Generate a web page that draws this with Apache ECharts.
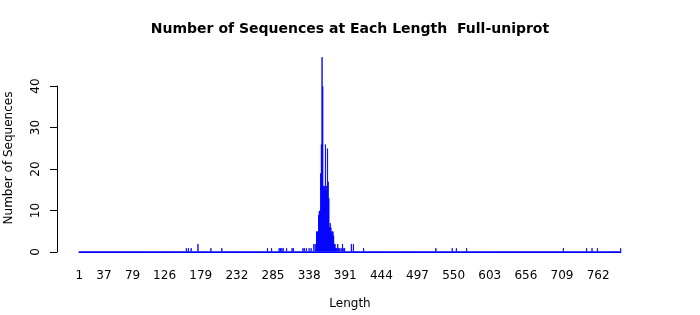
<!DOCTYPE html>
<html>
<head>
<meta charset="utf-8">
<script src="https://cdn.jsdelivr.net/npm/echarts@6/dist/echarts.min.js"></script>
<style>
html,body{margin:0;padding:0;background:#fff;}
#chart{width:700px;height:315px;}
</style>
</head>
<body>
<div id="chart"></div>
<script>
// Sequence lengths present (sparse) and their counts
const lengths = [158,161,165,175,194,210,277,283,294,296,298,300,305,313,315,329,331,334,338,341,345,347,349,350,351,352,353,354,355,356,357,358,359,360,361,362,363,364,365,366,367,368,369,370,371,372,373,374,375,376,377,378,380,381,383,385,387,389,390,400,403,418,524,548,554,569,711,745,753,761,795];
const counts  = [1,1,1,2,1,1,1,1,1,1,1,1,1,1,1,1,1,1,1,1,2,2,5,5,5,9,10,10,19,26,47,40,16,15,16,26,15,16,25,17,13,6,7,6,5,5,5,4,2,2,1,1,2,1,1,1,2,1,1,2,2,1,1,1,1,1,1,1,1,1,1];
const maxLength = 795;
const xTickLabels = ['1','37','79','126','179','232','285','338','391','444','497','550','603','656','709','762'];
const yTicks = [0,10,20,30,40];

// category table (every length 1..maxLength; lengths not observed have count 0)
const categories = [];
const values = [];
const countMap = {};
lengths.forEach((l, i) => { countMap[l] = counts[i]; });
for (let l = 1; l <= maxLength; l++) {
  categories.push(String(l));
  values.push(countMap[l] || 0);
}

const chart = echarts.init(document.getElementById('chart'), null, {renderer: 'canvas'});
const FONT = 'DejaVu Sans';
chart.setOption({
  animation: false,
  backgroundColor: '#ffffff',
  title: {
    text: 'Number of Sequences at Each Length  Full-uniprot',
    left: 'center',
    top: 22,
    padding: 0,
    textStyle: {fontFamily: FONT, fontSize: 14, fontWeight: 'bold', color: '#000'}
  },
  grid: {left: 79, right: 79, top: 86, bottom: 60, containLabel: false},
  xAxis: {
    type: 'category',
    data: categories,
    boundaryGap: true,
    axisLine: {show: true, lineStyle: {color: '#0000ff', width: 1}},
    axisTick: {show: false},
    splitLine: {show: false},
    axisLabel: {
      interval: (idx, val) => xTickLabels.includes(val),
      margin: 18,
      fontFamily: FONT, fontSize: 12, color: '#000'
    },
    name: 'Length',
    nameLocation: 'middle',
    nameGap: 46,
    nameTextStyle: {fontFamily: FONT, fontSize: 12, color: '#000'}
  },
  yAxis: {
    type: 'value',
    min: yTicks[0],
    max: yTicks[yTicks.length - 1],
    interval: 10,
    offset: 22,
    axisLine: {show: true, lineStyle: {color: '#000', width: 1}},
    axisTick: {show: true, length: 7, lineStyle: {color: '#000'}},
    splitLine: {show: false},
    axisLabel: {rotate: 90, margin: 15, fontFamily: FONT, fontSize: 12, color: '#000'}
  },
  graphic: [{
    type: 'text',
    x: 9, y: 158,
    rotation: Math.PI / 2,
    style: {
      text: 'Number of Sequences',
      fontFamily: FONT, fontSize: 12, fill: '#000',
      textAlign: 'center', textVerticalAlign: 'middle'
    }
  }],
  series: [{
    type: 'bar',
    data: values,
    clip: false,
    barCategoryGap: '20%',
    itemStyle: {color: '#0000ff', borderColor: '#0000ff', borderWidth: 0.8}
  }]
});
</script>
</body>
</html>
